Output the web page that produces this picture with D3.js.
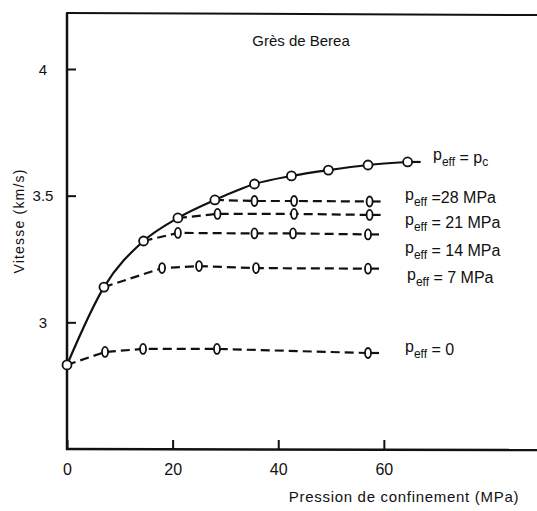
<!DOCTYPE html>
<html>
<head>
<meta charset="utf-8">
<script src="https://cdn.jsdelivr.net/npm/d3@7"></script>
<style>
  body { margin: 0; background: #fff; }
  text { font-family: "Liberation Sans", Arial, sans-serif; fill: #111; }
</style>
</head>
<body>
<div id="demo"></div>
<script>
// confining pressure (MPa) and velocity (km/s)
let pcPressure = [0, 7, 14.5, 21, 28, 35.5, 42.5, 49.5, 57, 64.5];
let pcVelocity = [2.832, 3.139, 3.321, 3.412, 3.483, 3.546, 3.578, 3.601, 3.621, 3.633];

let eff28Pressure = [28, 35.5, 43, 57.3];
let eff28Velocity = [3.483, 3.479, 3.479, 3.477];

let eff21Pressure = [21, 28.5, 43, 57.3];
let eff21Velocity = [3.412, 3.428, 3.428, 3.424];

let eff14Pressure = [14.5, 21, 35.5, 42.8, 57];
let eff14Velocity = [3.321, 3.353, 3.351, 3.351, 3.347];

let eff7Pressure = [7, 18, 25, 35.8, 57];
let eff7Velocity = [3.139, 3.214, 3.222, 3.214, 3.212];

let eff0Pressure = [0, 7.2, 14.4, 28.4, 57];
let eff0Velocity = [2.832, 2.883, 2.895, 2.895, 2.879];

let seriesLabels = ["28 MPa", " 21 MPa", " 14 MPa", " 7 MPa", " 0"];
let xTicks = [0, 20, 40, 60];
let yTicks = [3, 3.5, 4];

let w = 537;
let h = 511;

let svg = d3.select("#demo")
    .append("svg")
    .attr("width", w)
    .attr("height", h);

let x = d3.scaleLinear().domain([0, 89]).range([67, 537]);
let y = d3.scaleLinear().domain([2.5, 4]).range([449, 69]);

let dashed = [
    [eff28Pressure, eff28Velocity],
    [eff21Pressure, eff21Velocity],
    [eff14Pressure, eff14Velocity],
    [eff7Pressure, eff7Velocity],
    [eff0Pressure, eff0Velocity]
];

let toPoints = (px, vy) => px.map((p, i) => [p, vy[i]]);

let line = d3.line()
    .x((d) => x(d[0]))
    .y((d) => y(d[1]))
    .curve(d3.curveMonotoneX);

let straight = d3.line()
    .x((d) => x(d[0]))
    .y((d) => y(d[1]));

// frame: left, bottom, top
svg.append("line")
    .attr("x1", 67).attr("x2", 67).attr("y1", 13).attr("y2", 450)
    .style("stroke", "#111").style("stroke-width", 2.5);
svg.append("line")
    .attr("x1", 66).attr("x2", 537).attr("y1", 449).attr("y2", 450)
    .style("stroke", "#111").style("stroke-width", 2.5);
svg.append("line")
    .attr("x1", 66).attr("x2", 537).attr("y1", 13).attr("y2", 15)
    .style("stroke", "#111").style("stroke-width", 2);

// axes with inward ticks
let yAxis = svg.append("g")
    .attr("transform", "translate(67,0)")
    .call(d3.axisLeft(y).tickValues(yTicks).tickSize(-9).tickFormat((d) => d));
yAxis.select(".domain").remove();
yAxis.selectAll("line").style("stroke", "#111").style("stroke-width", 2);
yAxis.selectAll("text")
    .attr("x", -24)
    .attr("dy", "0.35em")
    .attr("text-anchor", "middle")
    .style("font-size", "15px")
    .style("font-family", "Liberation Sans, Arial, sans-serif");

let xAxis = svg.append("g")
    .attr("transform", "translate(0,449)")
    .call(d3.axisBottom(x).tickValues(xTicks).tickSize(-9));
xAxis.select(".domain").remove();
xAxis.selectAll("line").style("stroke", "#111").style("stroke-width", 2);
xAxis.selectAll("text")
    .attr("y", 26)
    .attr("dy", 0)
    .style("font-size", "16px")
    .style("font-family", "Liberation Sans, Arial, sans-serif");

// dashed effective pressure curves
dashed.forEach((s) => {
    let pts = toPoints(s[0], s[1]);
    let last = pts[pts.length - 1];
    svg.append("path")
        .attr("d", straight(pts))
        .style("fill", "none")
        .style("stroke", "#111")
        .style("stroke-width", 2.2)
        .style("stroke-dasharray", "9,5");
    svg.append("line")
        .attr("x1", x(last[0])).attr("x2", x(last[0]) + 11)
        .attr("y1", y(last[1])).attr("y2", y(last[1]))
        .style("stroke", "#111").style("stroke-width", 2.2);
});

// solid p_eff = p_c curve
let mainPts = toPoints(pcPressure, pcVelocity);
svg.append("path")
    .attr("d", line(mainPts))
    .style("fill", "none")
    .style("stroke", "#111")
    .style("stroke-width", 2.2);
svg.append("line")
    .attr("x1", x(pcPressure[pcPressure.length - 1]))
    .attr("x2", x(pcPressure[pcPressure.length - 1]) + 13)
    .attr("y1", y(pcVelocity[pcVelocity.length - 1]))
    .attr("y2", y(pcVelocity[pcVelocity.length - 1]))
    .style("stroke", "#111").style("stroke-width", 2.2);

// markers on the dashed curves (first point sits on the solid curve)
dashed.forEach((s) => {
    let pts = toPoints(s[0], s[1]).slice(1);
    svg.selectAll(null)
        .data(pts)
        .enter()
        .append("ellipse")
        .attr("cx", (d) => x(d[0]))
        .attr("cy", (d) => y(d[1]))
        .attr("rx", 3)
        .attr("ry", 5)
        .style("fill", "#fff")
        .style("stroke", "#111")
        .style("stroke-width", 1.8);
});

svg.selectAll(null)
    .data(mainPts)
    .enter()
    .append("circle")
    .attr("cx", (d) => x(d[0]))
    .attr("cy", (d) => y(d[1]))
    .attr("r", 4.5)
    .style("fill", "#fff")
    .style("stroke", "#111")
    .style("stroke-width", 1.8);

// curve labels
let addPeff = (lx, ly, rest, sub) => {
    let t = svg.append("text")
        .attr("x", lx)
        .attr("y", ly)
        .style("font-size", "16px");
    t.append("tspan").attr("dy", -3).text("p");
    t.append("tspan").attr("dy", 6).style("font-size", "12px").text("eff");
    t.append("tspan").attr("dy", -3).text(rest);
    if (sub) {
        t.append("tspan").attr("dy", 3).style("font-size", "12px").text(sub);
    }
};

let labelPos = [[405, 203], [405, 228], [405, 256], [407, 283], [405, 355]];
addPeff(433, 163, " = p", "c");
seriesLabels.forEach((s, i) => {
    addPeff(labelPos[i][0], labelPos[i][1], " =" + s);
});

// titles
svg.append("text")
    .attr("x", 301)
    .attr("y", 46)
    .attr("text-anchor", "middle")
    .style("font-size", "15px")
    .text("Grès de Berea");

svg.append("text")
    .attr("x", 404)
    .attr("y", 502)
    .attr("text-anchor", "middle")
    .style("font-size", "15px")
    .style("letter-spacing", "0.7px")
    .text("Pression de confinement (MPa)");

svg.append("text")
    .attr("transform", "translate(24,221) rotate(-90)")
    .attr("text-anchor", "middle")
    .style("font-size", "14px")
    .style("letter-spacing", "1.2px")
    .text("Vitesse (km/s)");
</script>
</body>
</html>
